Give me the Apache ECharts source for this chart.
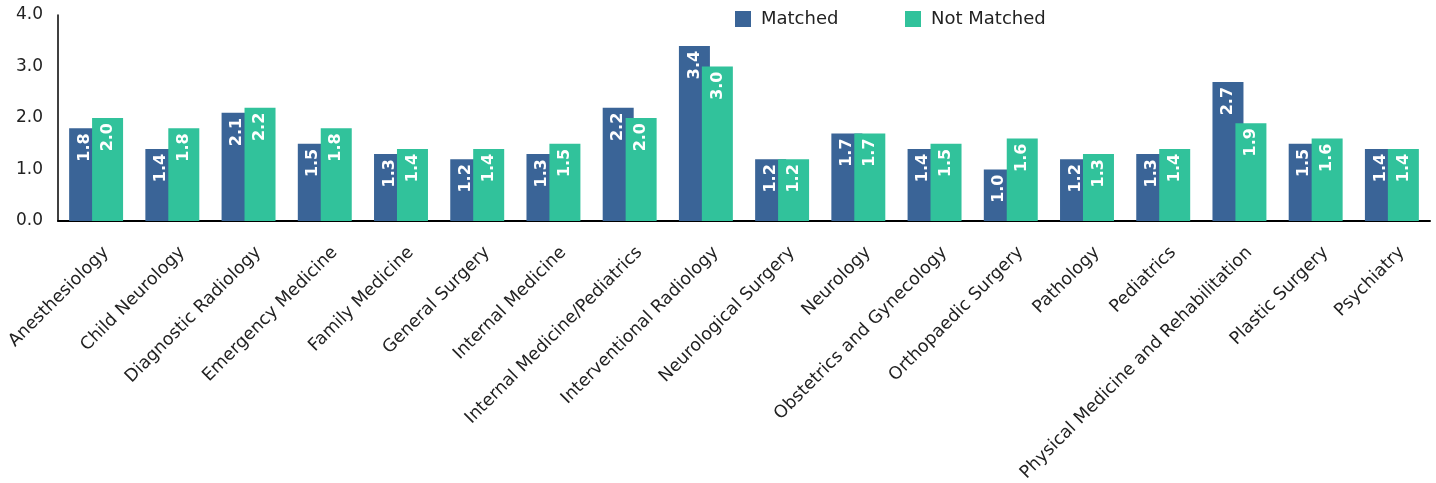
<!DOCTYPE html>
<html><head><meta charset="utf-8">
<script src="https://cdn.jsdelivr.net/npm/echarts@6/dist/echarts.min.js"></script>
<style>html,body{margin:0;padding:0;background:#fff}#c{width:1436px;height:483px}</style>
</head><body><div id="c"></div>
<script>
const categories = ["Anesthesiology","Child Neurology","Diagnostic Radiology","Emergency Medicine","Family Medicine","General Surgery","Internal Medicine","Internal Medicine/Pediatrics","Interventional Radiology","Neurological Surgery","Neurology","Obstetrics and Gynecology","Orthopaedic Surgery","Pathology","Pediatrics","Physical Medicine and Rehabilitation","Plastic Surgery","Psychiatry"];
const matched = [1.8,1.4,2.1,1.5,1.3,1.2,1.3,2.2,3.4,1.2,1.7,1.4,1.0,1.2,1.3,2.7,1.5,1.4];
const notMatched = [2.0,1.8,2.2,1.8,1.4,1.4,1.5,2.0,3.0,1.2,1.7,1.5,1.6,1.3,1.4,1.9,1.6,1.4];
const yTicks = [0,1,2,3,4];
const seriesNames = ['Matched','Not Matched'];

const font = "'DejaVu Sans', sans-serif";
const lbl = {show:true, position:'insideTop', rotate:90, align:'right', verticalAlign:'middle', distance:5,
  color:'#fff', fontWeight:'bold', fontSize:16, fontFamily:font, formatter:p=>p.value.toFixed(1)};
const legendCommon = {top:5, itemWidth:16, itemHeight:16, icon:'rect',
  textStyle:{fontSize:18, color:'#222', fontFamily:font, padding:[0,0,0,5]}};
const chart = echarts.init(document.getElementById('c'));
chart.setOption({
  animation:false,
  textStyle:{fontFamily:font},
  legend:[
    Object.assign({left:730, data:[seriesNames[0]]}, legendCommon),
    Object.assign({left:900, data:[seriesNames[1]]}, legendCommon)
  ],
  grid:{left:58, right:6, top:15, bottom:262, containLabel:false, outerBoundsMode:'none'},
  xAxis:{type:'category', data:categories,
    axisLine:{lineStyle:{color:'#000', width:2}}, axisTick:{show:false},
    axisLabel:{rotate:45, interval:0, fontSize:17.5, color:'#222', margin:26, fontFamily:font,
      align:'right', verticalAlign:'top', padding:[0,-5,0,0]}},
  yAxis:{type:'value', min:yTicks[0], max:yTicks[yTicks.length-1], interval:1,
    axisLine:{show:true, lineStyle:{color:'#000', width:1.5}}, axisTick:{show:false}, splitLine:{show:false},
    axisLabel:{fontSize:17, color:'#222', margin:15, padding:[4,0,0,0], formatter:v=>v.toFixed(1), fontFamily:font}},
  series:[
    {name:seriesNames[0], type:'bar', data:matched, barWidth:31, barGap:'-26%', itemStyle:{color:'#3A6497'}, label:lbl},
    {name:seriesNames[1], type:'bar', data:notMatched, barWidth:31, barGap:'-26%', itemStyle:{color:'#31C29B'}, label:lbl}
  ]
});
</script></body></html>
